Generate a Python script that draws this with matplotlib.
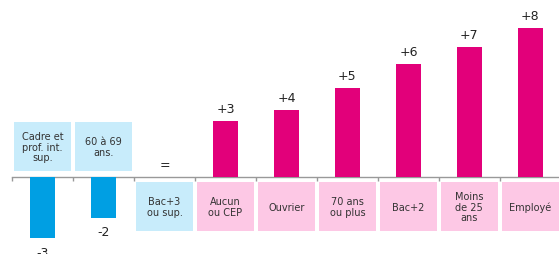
import matplotlib.pyplot as plt
from matplotlib.patches import Rectangle

categories = ["Cadre et\nprof. int.\nsup.", "60 à 69\nans.", "Bac+3\nou sup.", "Aucun\nou CEP",
              "Ouvrier", "70 ans\nou plus", "Bac+2", "Moins\nde 25\nans", "Employé"]
values = [-3.3, -2.2, 0.0, 3.0, 3.6, 4.8, 6.1, 7.0, 8.0]
value_labels = ["-3", "-2", "=", "+3", "+4", "+5", "+6", "+7", "+8"]

blue = "#009fe3"
pink = "#e2007a"
light_blue = "#c8ecfb"
light_pink = "#fdc8e5"

fig = plt.figure(figsize=(5.59, 2.55), dpi=100)
ax = fig.add_axes([0, 0, 1, 1])
ax.set_xlim(-0.697, 8.47)
ax.set_ylim(-4.14, 9.57)
ax.axis("off")

x = list(range(len(values)))
colors = [blue if v < 0 else pink for v in values]
ax.bar(x, values, width=0.41, color=colors, zorder=2)

# axis line and small ticks between categories
ax.plot([-0.5, len(values) - 0.5], [0, 0], color="#999999", lw=1, zorder=1)
ax.vlines([i - 0.5 for i in range(len(values) + 1)], -0.2, 0, color="#999999", lw=1, zorder=1)

for i, (v, lab, cat) in enumerate(zip(values, value_labels, categories)):
    if v < 0:
        box_y, box_fc, text_y = 0.32, light_blue, 1.635
        ax.annotate(lab, (i, v), xytext=(0, -10), textcoords="offset points",
                    ha="center", va="center", fontsize=9, color="#222222")
    else:
        box_y = -2.9
        box_fc = light_blue if v == 0 else light_pink
        text_y = -1.59
        ax.annotate(lab, (i, v), xytext=(0, 9), textcoords="offset points",
                    ha="center", va="center", fontsize=9, color="#222222")
    ax.add_patch(Rectangle((i - 0.465, box_y), 0.93, 2.63, facecolor=box_fc, edgecolor="none", zorder=0))
    ax.text(i, text_y, cat, ha="center", va="center", fontsize=7, color="#333333", linespacing=1.1)

fig.savefig("out.png", dpi=100)
